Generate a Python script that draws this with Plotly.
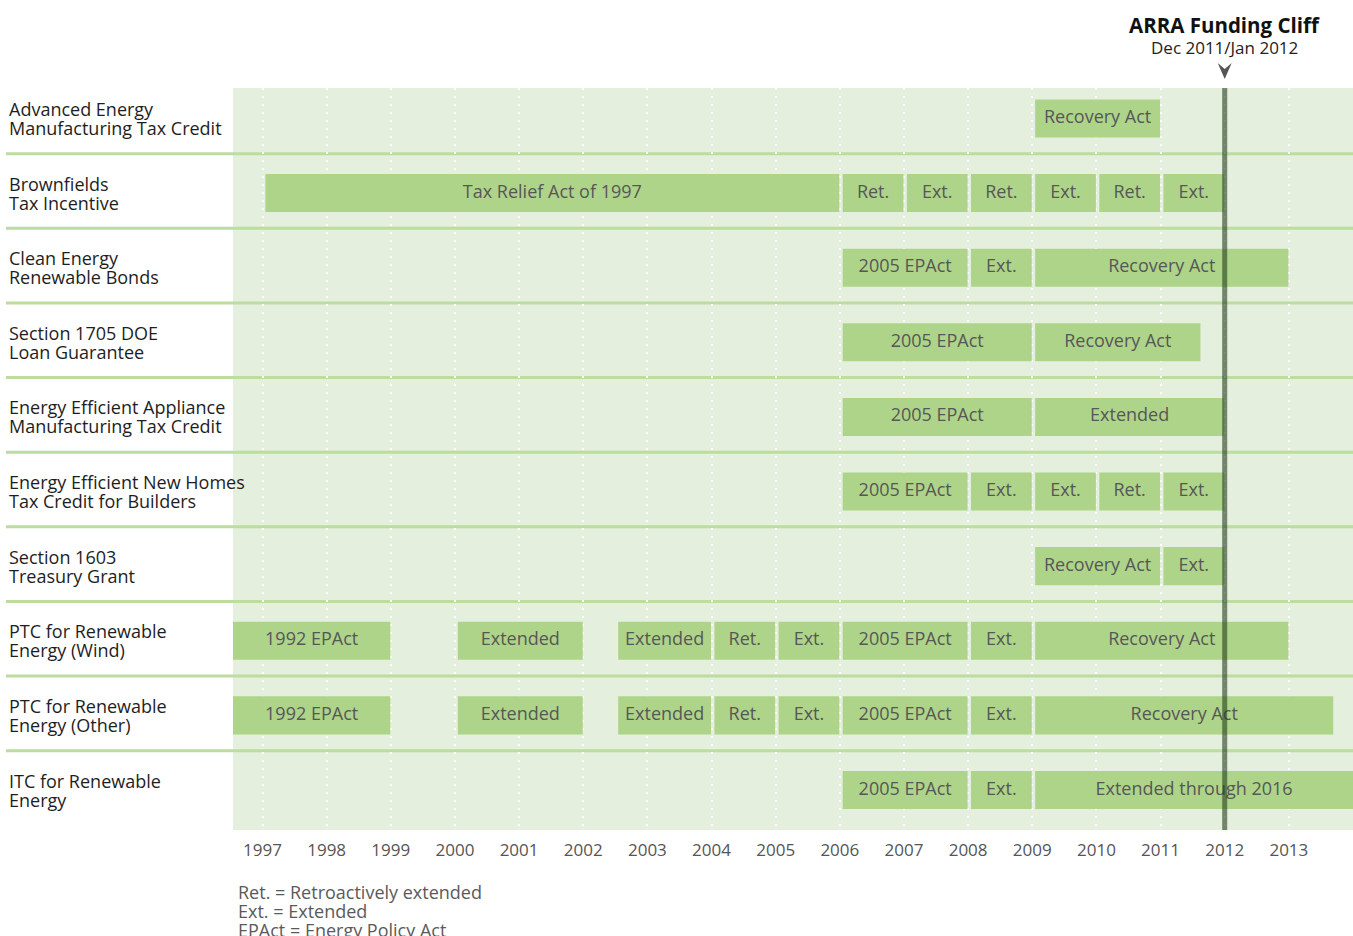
import plotly.graph_objects as go

# ---------------- data ----------------
programs = [
    "Advanced Energy\nManufacturing Tax Credit",
    "Brownfields\nTax Incentive",
    "Clean Energy\nRenewable Bonds",
    "Section 1705 DOE\nLoan Guarantee",
    "Energy Efficient Appliance\nManufacturing Tax Credit",
    "Energy Efficient New Homes\nTax Credit for Builders",
    "Section 1603\nTreasury Grant",
    "PTC for Renewable\nEnergy (Wind)",
    "PTC for Renewable\nEnergy (Other)",
    "ITC for Renewable\nEnergy",
]

# one entry per segment: program row, label, start year, end year
seg_row = [0,
           1, 1, 1, 1, 1, 1, 1,
           2, 2, 2,
           3, 3,
           4, 4,
           5, 5, 5, 5, 5,
           6, 6,
           7, 7, 7, 7, 7, 7, 7, 7,
           8, 8, 8, 8, 8, 8, 8, 8,
           9, 9, 9]
seg_label = ["Recovery Act",
             "Tax Relief Act of 1997", "Ret.", "Ext.", "Ret.", "Ext.", "Ret.", "Ext.",
             "2005 EPAct", "Ext.", "Recovery Act",
             "2005 EPAct", "Recovery Act",
             "2005 EPAct", "Extended",
             "2005 EPAct", "Ext.", "Ext.", "Ret.", "Ext.",
             "Recovery Act", "Ext.",
             "1992 EPAct", "Extended", "Extended", "Ret.", "Ext.", "2005 EPAct", "Ext.", "Recovery Act",
             "1992 EPAct", "Extended", "Extended", "Ret.", "Ext.", "2005 EPAct", "Ext.", "Recovery Act",
             "2005 EPAct", "Ext.", "Extended through 2016"]
seg_start = [2009,
             1997, 2006, 2007, 2008, 2009, 2010, 2011,
             2006, 2008, 2009,
             2006, 2009,
             2006, 2009,
             2006, 2008, 2009, 2010, 2011,
             2009, 2011,
             1992, 2000, 2002.5, 2004, 2005, 2006, 2008, 2009,
             1992, 2000, 2002.5, 2004, 2005, 2006, 2008, 2009,
             2006, 2008, 2009]
seg_end = [2011,
           2006, 2007, 2008, 2009, 2010, 2011, 2012,
           2008, 2009, 2013,
           2009, 2011.63,
           2009, 2012,
           2008, 2009, 2010, 2011, 2012,
           2011, 2012,
           1999, 2002, 2004, 2005, 2006, 2008, 2009, 2013,
           1999, 2002, 2004, 2005, 2006, 2008, 2009, 2013.7,
           2008, 2009, 2017]

years = list(range(1997, 2014))
year_labels = [str(y) for y in years]
cliff_year = 2012.0
cliff_title = "ARRA Funding Cliff"
cliff_sub = "Dec 2011/Jan 2012"
footnotes = ["Ret. = Retroactively extended", "Ext. = Extended", "EPAct = Energy Policy Act"]

# ---------------- style ----------------
X_MIN, X_MAX = 1996.54, 2014.0
LEAD_GAP, TAIL_GAP = 0.045, 0.008
BAR_COLOR = "#aed48a"
BG_COLOR = "#e4f0dd"
SEP_COLOR = "#bddca0"
FONT = "Open Sans"

bases, widths, mids = [], [], []
for s, e in zip(seg_start, seg_end):
    b = X_MIN if s < X_MIN else s + LEAD_GAP
    t = X_MAX if e > X_MAX else e - TAIL_GAP
    bases.append(b)
    widths.append(t - b)
    mids.append((b + t) / 2)

fig = go.Figure()
fig.add_trace(go.Bar(
    y=seg_row, x=widths, base=bases, orientation="h",
    width=0.51, marker=dict(color=BAR_COLOR, line=dict(width=0)),
    hoverinfo="skip", showlegend=False,
))
fig.add_trace(go.Scatter(
    x=mids, y=seg_row, mode="text", text=seg_label,
    textfont=dict(family=FONT, size=18, color="#575757"),
    hoverinfo="skip", showlegend=False, cliponaxis=False,
))

shapes = []
for i in range(len(programs) - 1):
    shapes.append(dict(type="line", xref="paper", yref="y",
                       x0=-0.2027, x1=1, y0=i + 0.473, y1=i + 0.473,
                       line=dict(color=SEP_COLOR, width=3), layer="below"))
shapes.append(dict(type="line", xref="x", yref="paper",
                   x0=cliff_year, x1=cliff_year, y0=0, y1=1,
                   line=dict(color="rgba(38,66,32,0.62)", width=5), layer="above"))
# arrow head pointing at the cliff line
hw = 0.109
shapes.append(dict(type="path", xref="x", yref="paper",
                   path=(f"M {cliff_year},1.0121 L {cliff_year - hw},1.0337 "
                         f"L {cliff_year},1.0256 L {cliff_year + hw},1.0337 Z"),
                   fillcolor="#555555", line=dict(width=0), layer="above"))

annotations = []
for i, name in enumerate(programs):
    l1, l2 = name.split("\n")
    for txt, shift in ((l1, 9.5), (l2, -9.5)):
        annotations.append(dict(xref="paper", yref="y", x=-0.2018, y=i, yshift=shift,
                                text=txt, showarrow=False, xanchor="left", yanchor="middle",
                                font=dict(family=FONT, size=18, color="#1e1e1e")))
annotations.append(dict(xref="x", yref="paper", x=cliff_year, y=1.085, text="<b>" + cliff_title + "</b>",
                        showarrow=False, xanchor="center", yanchor="middle",
                        font=dict(family=FONT, size=20.5, color="#111111")))
annotations.append(dict(xref="x", yref="paper", x=cliff_year, y=1.055, text=cliff_sub,
                        showarrow=False, xanchor="center", yanchor="middle",
                        font=dict(family=FONT, size=17, color="#222222")))
for k, t in enumerate(footnotes):
    annotations.append(dict(xref="paper", yref="paper", x=0.003, y=-0.0836 - k * 0.0253, text=t,
                            showarrow=False, xanchor="left", yanchor="middle",
                            font=dict(family=FONT, size=18, color="#5a5a5a")))

fig.update_layout(
    width=1353, height=936,
    margin=dict(l=233, r=0, t=88, b=106),
    paper_bgcolor="white", plot_bgcolor=BG_COLOR,
    barmode="overlay",
    shapes=shapes, annotations=annotations,
    xaxis=dict(range=[X_MIN, X_MAX], tickvals=years, ticktext=year_labels,
               showgrid=True, gridcolor="white", gridwidth=2, griddash="2px,6px",
               zeroline=False, showline=False, ticks="outside", ticklen=5,
               tickcolor="rgba(0,0,0,0)",
               tickfont=dict(family=FONT, size=17, color="#555555")),
    yaxis=dict(range=[9.536, -0.408], showgrid=False, zeroline=False,
               showticklabels=False, showline=False),
    font=dict(family=FONT),
)

# remove the default page margin so the figure fills the window exactly
fig.write_html("out.html",
               config={"displayModeBar": False},
               post_script="document.body.style.margin='0px';document.body.style.overflow='hidden';")
